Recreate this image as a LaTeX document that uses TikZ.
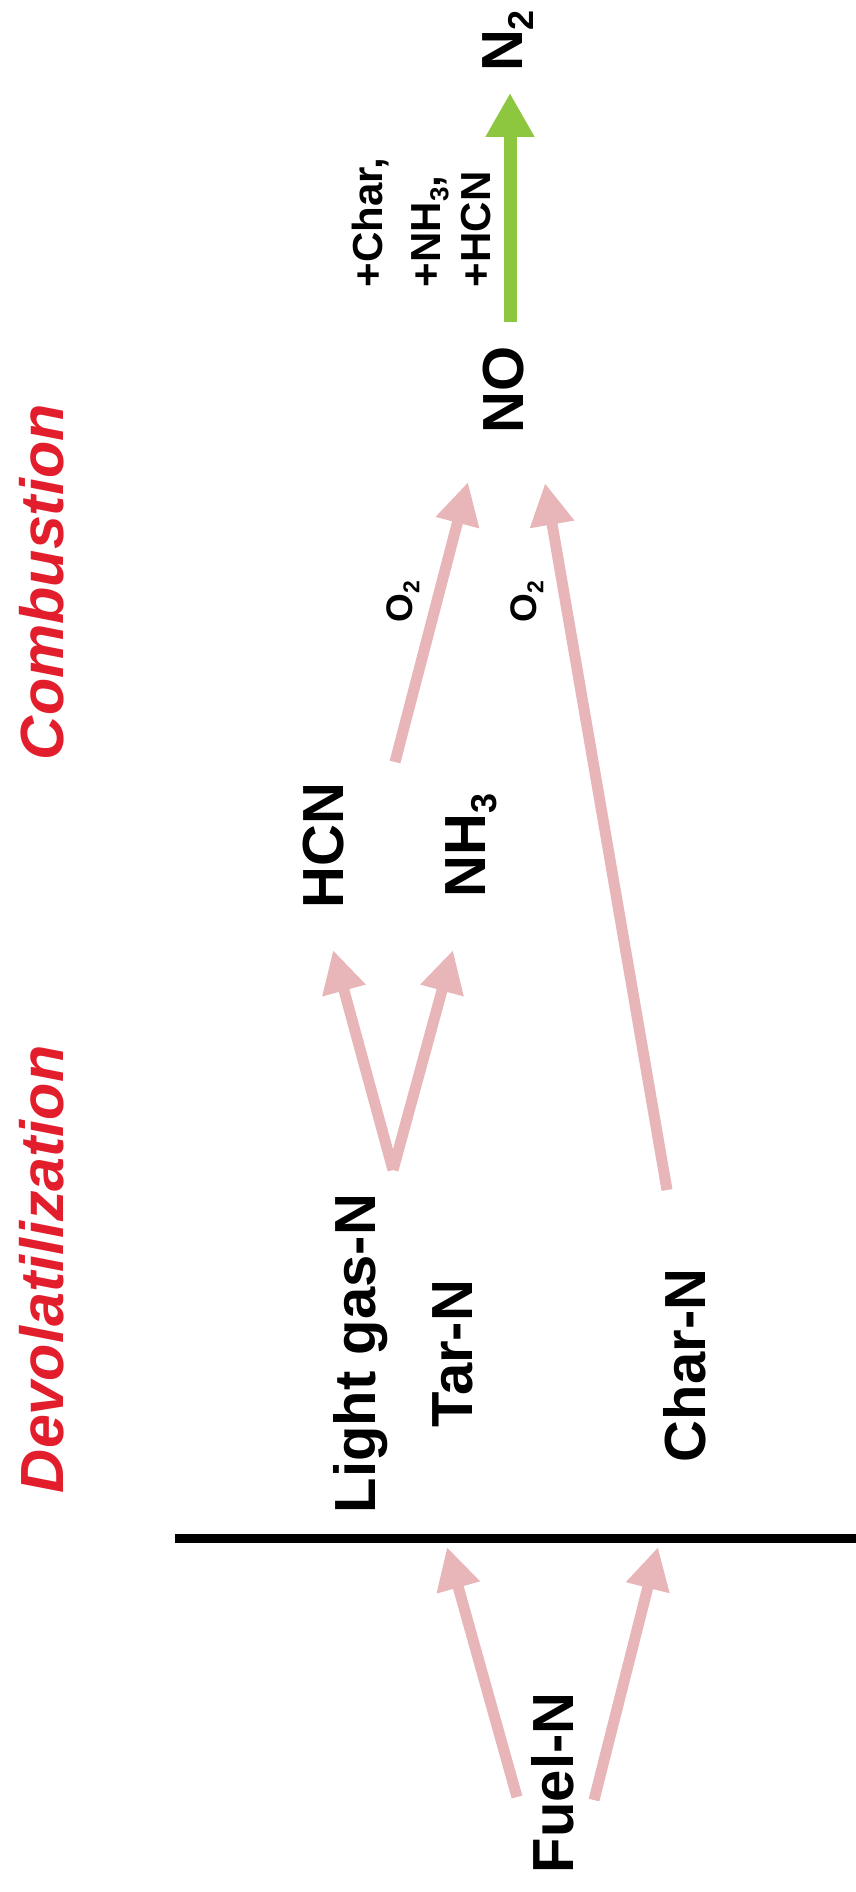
\documentclass[tikz,border=0pt]{standalone}
\usepackage{fontspec}
\setmainfont{Liberation Sans}
\usetikzlibrary{arrows.meta}
\definecolor{pinkc}{RGB}{232,182,184}
\definecolor{greenc}{RGB}{141,198,63}
\definecolor{redc}{RGB}{226,30,45}
\newcommand\dnsub[1]{\raisebox{-0.2em}{\scalebox{0.62}{#1}}}
\tikzset{
  lab/.style={rotate=90, anchor=base west, inner sep=0pt, outer sep=0pt,
    font=\bfseries\fontsize{58}{60}\selectfont},
  smalllab/.style={rotate=90, anchor=base west, inner sep=0pt, outer sep=0pt,
    font=\bfseries\fontsize{42}{44}\selectfont},
  olab/.style={rotate=90, anchor=base west, inner sep=0pt, outer sep=0pt,
    font=\bfseries\fontsize{37}{39}\selectfont},
  phase/.style={rotate=90, anchor=base west, inner sep=0pt, outer sep=0pt,
    text=redc, font=\bfseries\itshape\fontsize{61}{63}\selectfont},
  pk/.style={draw=pinkc, line width=11pt, -{Triangle[length=42pt,width=42pt]}},
  gr/.style={draw=greenc, line width=13pt, -{Triangle[length=44pt,width=46pt]}},
  sepline/.style={draw=black, line width=9pt}
}
\begin{document}
\begin{tikzpicture}[x=1pt,y=-1pt]
\useasboundingbox (0,0) rectangle (856,1892);
% phase titles
\node[phase] (comb) at (63,760) {Combustion};
\node[phase] (devol) at (63,1493) {Devolatilization};
% species
\node[lab] (fuel) at (573,1873) {Fuel-N};
\node[lab] (light) at (375,1513) {Light gas-N};
\node[lab] (tar) at (472,1427) {Tar-N};
\node[lab] (char) at (705,1462) {Char-N};
\node[lab] (hcn) at (343,908) {HCN};
\node[lab] (nh3) at (485,897) {NH\dnsub{3}};
\node[lab] (no) at (523,433) {NO};
\node[lab] (n2) at (522,72) {N\dnsub{2}};
% reaction labels
\node[olab] (o2a) at (412,622) {O\dnsub{2}};
\node[olab] (o2b) at (536,622) {O\dnsub{2}};
\node[smalllab] (r1) at (382,287) {+Char,};
\node[smalllab] (r2) at (440,287) {+NH\dnsub{3},};
\node[smalllab] (r3) at (490,287) {+HCN};
% connector ends
\coordinate (sepL) at (175,1538);
\coordinate (sepR) at (856,1538);
\coordinate (fuelA) at (517,1797);
\coordinate (tarIn) at (447,1547);
\coordinate (fuelB) at (594,1800);
\coordinate (charIn) at (658,1547);
\coordinate (lightOut) at (393,1170);
\coordinate (hcnIn) at (333,950);
\coordinate (nh3In) at (453,950);
\coordinate (hcnOut) at (395,762);
\coordinate (noInA) at (468,482);
\coordinate (charOut) at (667,1190);
\coordinate (noInB) at (545,483);
\coordinate (noOut) at (510,322);
\coordinate (n2In) at (510,93);
% separator
\draw[sepline] (sepL) -- (sepR);
% arrows
\draw[pk] (fuelA) -- (tarIn);
\draw[pk] (fuelB) -- (charIn);
\draw[pk] (lightOut) -- (hcnIn);
\draw[pk] (lightOut) -- (nh3In);
\draw[pk] (hcnOut) -- (noInA);
\draw[pk] (charOut) -- (noInB);
\draw[gr] (noOut) -- (n2In);
\end{tikzpicture}
\end{document}
